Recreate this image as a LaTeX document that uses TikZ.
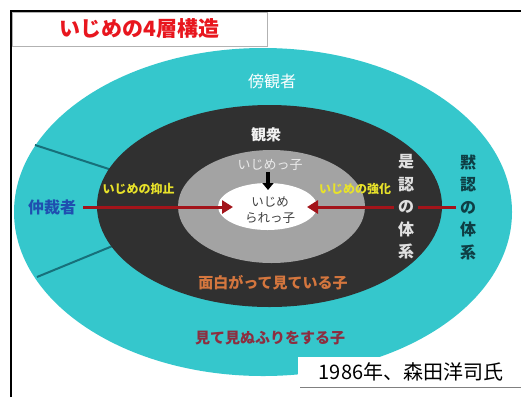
\documentclass[tikz,border=0pt]{standalone}
\usepackage{fontspec}
\setmainfont{Noto Sans CJK JP}
\usetikzlibrary{shapes.geometric,arrows.meta}
\definecolor{teal1}{HTML}{35C7CC}
\definecolor{dark1}{HTML}{303030}
\definecolor{gray1}{HTML}{A3A3A3}
\definecolor{divcol}{HTML}{17707A}
\definecolor{arrowred}{HTML}{A3141A}
\definecolor{yel}{HTML}{E8E22A}
\definecolor{blue1}{HTML}{1F4FB0}
\definecolor{mokucol}{HTML}{0E3E44}
\definecolor{omocol}{HTML}{D4763E}
\definecolor{mitecol}{HTML}{8C2E40}
\definecolor{titlered}{HTML}{E8161E}
\tikzset{
  ring/.style={ellipse, inner sep=0pt, draw=none},
  divider/.style={draw=divcol, line width=2pt},
  redline/.style={draw=arrowred, line width=3pt},
  redarrow/.style={redline, -{Triangle[width=13pt,length=11pt]}},
  downarrow/.style={draw=black, line width=4.5pt, -{Triangle[width=11pt,length=7pt]}},
  lbl/.style={inner sep=1pt},
  vtext/.style={inner xsep=4pt, inner ysep=1pt, align=center, font=\fontsize{16}{22.5}\selectfont\bfseries},
}
\begin{document}
\begin{tikzpicture}[x=1pt,y=-1pt]
\useasboundingbox (0,0) rectangle (521,397);
\fill[white] (0,0) rectangle (521,397);
% rings
\node[ring, fill=teal1, minimum width=498pt, minimum height=328pt] (outer) at (263,212) {};
\draw[divider] (35,145) -- (115,171);
\draw[divider] (37,277) -- (115,245);
\node[ring, fill=dark1, minimum width=345pt, minimum height=202pt] (mid) at (269.5,206) {};
\node[ring, fill=gray1, minimum width=187pt, minimum height=113pt] (inner) at (271.5,206.5) {};
\node[ring, fill=white, minimum width=99pt, minimum height=47pt] (core) at (267.5,206.5) {};
% title box and frame
\node[draw=gray!60, line width=1pt, fill=white, minimum width=255pt, minimum height=34pt, inner sep=0pt,
      font=\fontsize{21}{21}\selectfont\bfseries, text=titlered] (titlebox) at (139.5,29) {いじめの4層構造};
\draw[line width=2pt] (11,397) -- (11,11) -- (521,11);
% citation box
\fill[white] (298,357) rectangle (521,387);
\draw[gray, line width=1pt] (300,387) -- (521,387);
\node[lbl, font=\fontsize{20}{20}\selectfont] (cite) at (411,372) {1986年、森田洋司氏};
% labels
\node[lbl, font=\fontsize{16}{16}\selectfont, text=white] (boukan) at (272,81) {傍観者};
\node[lbl, font=\fontsize{15}{15}\selectfont\bfseries, text=white!95!black] (kanshu) at (266,135) {観衆};
\node[lbl, font=\fontsize{13}{13}\selectfont, text=white!92!black] (bully) at (270,165) {いじめっ子};
\node[lbl, align=center, font=\fontsize{12.5}{16}\selectfont, text=black!75] (victim) at (270,210) {いじめ\\られっ子};
\node[lbl, font=\fontsize{12}{12}\selectfont\bfseries, text=yel] (yokushi) at (138.5,189) {いじめの抑止};
\node[lbl, font=\fontsize{12}{12}\selectfont\bfseries, text=yel] (kyouka) at (355,189) {いじめの強化};
\node[lbl, font=\fontsize{16}{16}\selectfont\bfseries, text=blue1] (chusai) at (52,207) {仲裁者};
\node[vtext, text=white!88!black] (zenin) at (406,207) {是\\認\\の\\体\\系};
\node[vtext, text=mokucol] (mokunin) at (468,207) {黙\\認\\の\\体\\系};
\node[lbl, font=\fontsize{15}{15}\selectfont\bfseries, text=omocol] (omoshiro) at (273,283) {面白がって見ている子};
\node[lbl, font=\fontsize{15}{15}\selectfont\bfseries, text=mitecol] (mite) at (270,338) {見て見ぬふりをする子};
% arrows
\coordinate (ltip) at (233,207);
\coordinate (rtip) at (307,207);
\coordinate (rstart) at (456,207);
\coordinate (dtip) at (268,190);
\draw[redarrow, shorten <=6pt] (chusai.east |- ltip) -- (ltip);
\draw[redline] (rstart) -- (rstart -| zenin.east);
\draw[redarrow] (rtip -| zenin.west) -- (rtip);
\draw[downarrow] (bully.south -| dtip) -- (dtip);
\end{tikzpicture}
\end{document}
